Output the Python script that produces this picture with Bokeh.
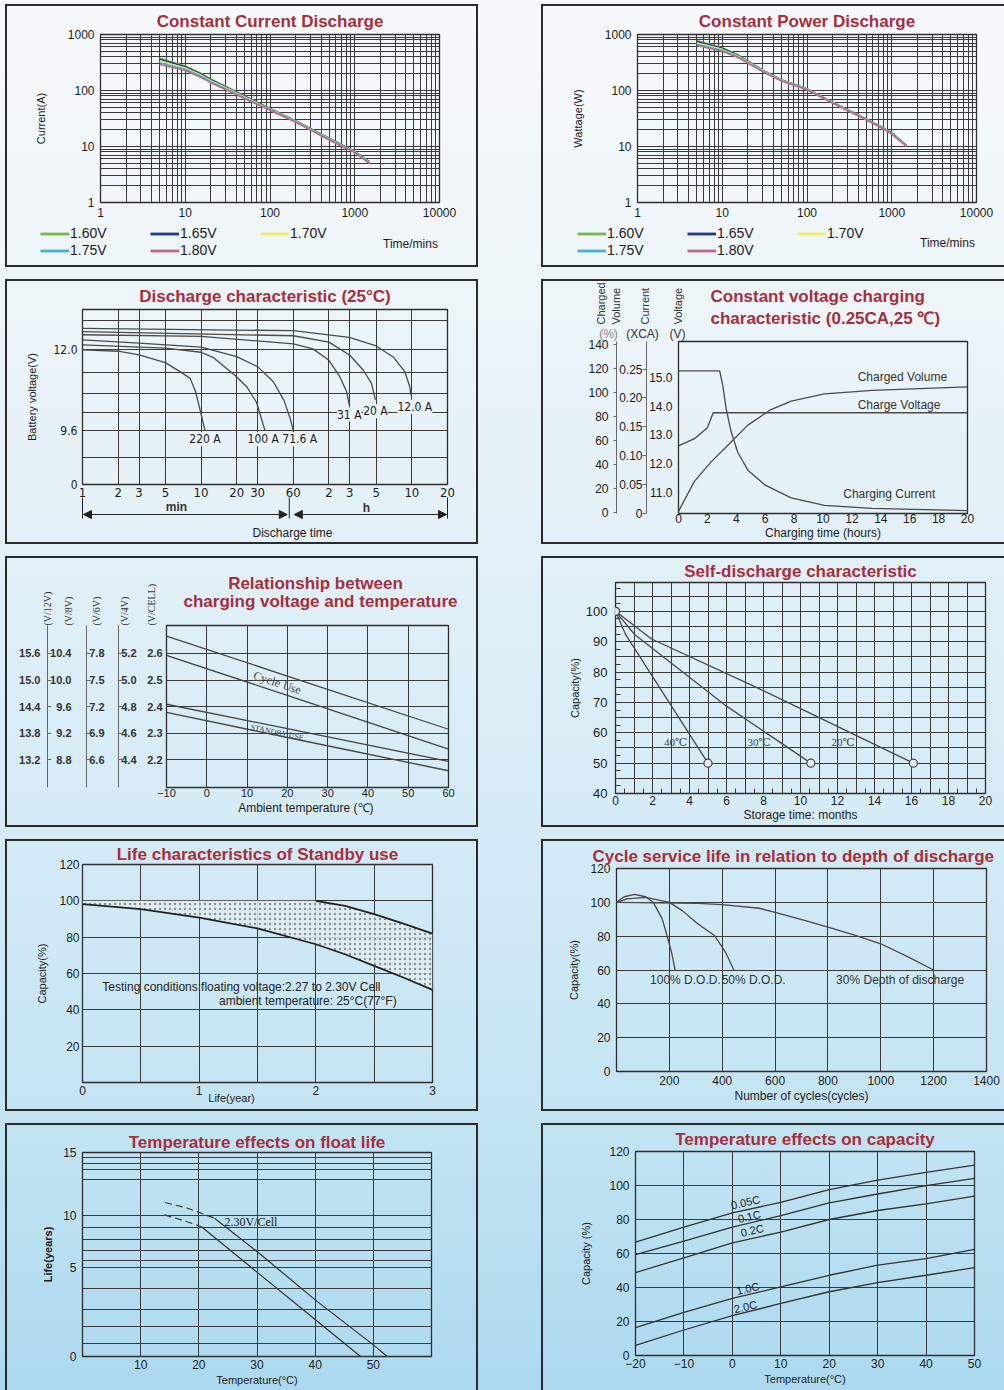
import math
import numpy as np
from bokeh.plotting import figure
from bokeh.models import (Range1d, FixedTicker, LinearAxis, Label, Legend, LegendItem,
                          Arrow, NormalHead, PrintfTickFormatter)
from bokeh.layouts import row, column
from bokeh.embed import file_html
from bokeh.resources import INLINE

# ====================== DATA ======================
end_volts = ["1.60V", "1.65V", "1.70V", "1.75V", "1.80V"]

# 1) Constant current discharge: time (min) -> current (A)
cc_time = [5, 10, 15, 20, 30, 60, 100, 200, 300, 500, 1000, 1500]
cc_160 = [380, 275, 205, 160, 118, 70, 48, 29, 21, 14, 8.2, 5.3]
cc_165 = [362, 266, 200, 156, 116, 69, 47.5, 28.7, 20.8, 13.9, 8.1, 5.25]
cc_170 = [335, 252, 192, 150, 112, 67, 46.5, 28.3, 20.4, 13.6, 8.0, 5.15]
cc_175 = [312, 240, 183, 144, 108, 65, 45.5, 27.8, 20.0, 13.4, 7.9, 5.05]
cc_180 = [292, 228, 174, 138, 104, 63, 44.5, 27.3, 19.6, 13.1, 7.8, 4.95]

# 2) Constant power discharge: time (min) -> power (W)
cp_time = [5, 10, 15, 20, 30, 50, 100, 200, 300, 500, 800, 1000, 1500]
cp_160 = [780, 580, 440, 340, 232, 156, 107, 62, 46, 31, 21.5, 17.5, 10.5]
cp_165 = [750, 566, 432, 335, 229, 154, 106, 61.5, 45.5, 30.8, 21.3, 17.3, 10.4]
cp_170 = [705, 542, 418, 326, 225, 152, 105, 61, 45, 30.5, 21.0, 17.0, 10.3]
cp_175 = [672, 522, 406, 318, 221, 150, 104, 60.5, 44.5, 30.2, 20.8, 16.8, 10.2]
cp_180 = [640, 502, 394, 310, 217, 148, 103, 60, 44, 30, 20.6, 16.6, 10.1]

# 3) Discharge characteristic (25C): time (min) -> battery voltage (V)
dis_labels = ["220 A", "100 A", "71.6 A", "31 A", "20 A", "12.0 A"]
dis_220_t = [1, 2, 3, 5, 6.8, 8.1, 9.0, 9.8, 10.8]
dis_220_v = [12.0, 11.96, 11.85, 11.62, 11.33, 11.15, 10.75, 10.22, 9.6]
dis_100_t = [1, 5, 10, 12.7, 19.6, 24.3, 29.4, 34.6]
dis_100_v = [12.15, 12.05, 11.93, 11.77, 11.22, 10.9, 10.43, 9.6]
dis_716_t = [1, 3, 10, 20, 30, 40.7, 50, 56, 60]
dis_716_v = [12.3, 12.2, 12.08, 11.8, 11.5, 11.05, 10.5, 10.0, 9.6]
dis_31_t = [1, 10, 60, 88, 120, 148, 169, 178]
dis_31_v = [12.45, 12.4, 12.18, 12.03, 11.69, 11.2, 10.76, 10.36]
dis_20_t = [1, 60, 120, 180, 233, 274, 296]
dis_20_v = [12.54, 12.42, 12.23, 11.84, 11.4, 11.0, 10.51]
dis_12_t = [1, 60, 178, 296, 418, 524, 577, 588]
dis_12_v = [12.64, 12.57, 12.37, 12.13, 11.79, 11.35, 10.9, 10.66]
dis_ticks = [1, 2, 3, 5, 10, 20, 30, 60, 120, 180, 300, 600, 1200]
dis_tick_labels = ["1", "2", "3", "5", "10", "20", "30", "60", "2", "3", "5", "10", "20"]
dis_axis_v = [0, 9.6, 12.0, 13.2]            # broken voltage axis knots (V)
dis_axis_frac = [0, 0.3096, 0.7692, 1.0]     # their height fraction on the axis
dis_grid_v = [4.8, 9.6, 10.12, 10.69, 11.32, 12.0, 12.86]

# 4) Constant voltage charging: time (h)
cvc_volt_t = [0, 1.1, 2.0, 2.4, 20]
cvc_volt = [12.62, 12.87, 13.25, 13.77, 13.77]
cvc_cur_t = [0, 2.85, 3.07, 3.3, 3.65, 4.1, 4.8, 6.0, 7.8, 10.1, 13.4, 20]
cvc_cur = [0.247, 0.247, 0.221, 0.181, 0.141, 0.106, 0.075, 0.049, 0.027, 0.014, 0.009, 0.005]
cvc_vol_t = [0, 1.1, 2.27, 3.4, 4.8, 6.4, 7.8, 10.1, 13.4, 20]
cvc_vol = [1, 26, 42.5, 56, 73, 86, 93, 99, 102, 105]

# 5) Charging voltage vs temperature (V/cell)
chg_temp = [-10, 20, 60]
cycle_hi = [2.665, 2.515, 2.315]
cycle_lo = [2.593, 2.442, 2.24]
standby_hi = [2.409, 2.317, 2.194]
standby_lo = [2.378, 2.284, 2.159]
cell_ticks = [2.2, 2.3, 2.4, 2.5, 2.6]

# 6) Self discharge: months -> capacity (%)
sd40_t, sd40_c = [0, 0.55, 5.0], [100, 92.3, 50]
sd30_t, sd30_c = [0, 1.05, 5.9, 10.56], [100, 92.3, 69.2, 50]
sd20_t, sd20_c = [0, 1.95, 7.5, 16.1], [100, 90.9, 75.3, 50]

# 7) Standby life: years -> capacity (%)
life_year = [0, 0.5, 1.0, 1.5, 2.0, 2.25, 2.5, 2.75, 3.0]
life_low = [98.2, 95.4, 90.8, 84.8, 76.1, 70.6, 64.2, 57.8, 51]
life_high = [100, 100, 100, 100, 100, 97.2, 92.7, 87.5, 82]

# 8) Cycle life vs depth of discharge: cycles -> capacity (%)
dod100_n = [0, 29, 69, 110, 139, 173, 191, 208, 222]
dod100_c = [100, 103.3, 104.7, 103.3, 100, 90.2, 80.4, 70.6, 60]
dod50_n = [0, 40, 110, 200, 249, 307, 371, 412, 444]
dod50_c = [100, 102, 102.9, 100, 95.1, 87.3, 80.4, 70.6, 60]
dod30_n = [0, 307, 400, 540, 600, 715, 800, 904, 1000, 1105, 1200]
dod30_c = [100, 99.4, 98.6, 96.5, 94.1, 89.2, 85.3, 80.4, 75.5, 67.6, 60]

# 9) Float life vs temperature: C -> years
fl_hi_dash_t, fl_hi_dash = [14.2, 18.1, 22.7], [11.05, 10.6, 9.77]
fl_hi_t, fl_hi = [22.7, 30, 40, 50, 52.4], [9.77, 6.53, 3.17, 0.65, 0]
fl_lo_dash_t, fl_lo_dash = [14.1, 17.0, 20.4], [10.08, 9.61, 8.96]
fl_lo_t, fl_lo = [20.4, 30, 40, 47.8], [8.96, 4.72, 2.07, 0]
life_axis_yr = [0, 5, 10, 15]
life_axis_frac = [0, 0.438, 0.6895, 1.0]
life_grid_yr = [0.75, 1.68, 2.61, 3.79, 5, 5.65, 6.59, 7.73, 8.86, 10, 12.84, 13.68, 14.1, 14.6]

# 10) Capacity vs temperature
cap_temp = [-20, -10, 0, 10, 20, 30, 40, 50]
cap_005 = [66.7, 75.5, 83.9, 90.1, 97.6, 103.2, 107.7, 112]
cap_01 = [59.3, 67.3, 75.5, 82.3, 89.8, 95, 99.9, 104.2]
cap_02 = [48.8, 57.4, 66.3, 72.6, 80, 85.3, 89.2, 93.7]
cap_10 = [16.4, 25.4, 33.6, 40.4, 47.2, 53.1, 57, 62.4]
cap_20 = [5.9, 15, 23.4, 30.6, 37.5, 42.9, 47.2, 51.7]

# ====================== STYLE ======================
FONT = "Liberation Sans"
NARROW = "'Liberation Sans Narrow', 'DejaVu Sans Condensed', 'Liberation Sans', sans-serif"
SERIF = "'Liberation Serif', 'DejaVu Serif', serif"
GRID_C = "#3a3a3a"
TITLE_C = "#a62f3c"
TXT = "#1c1c1c"
CURVE = "#4a4a4a"
VOLT_COLORS = ["#79b64c", "#23398a", "#eef060", "#3fb6d8", "#c2658e"]
BORDER = "2px solid #2b2b2b"
GRAD = ("linear-gradient(180deg, #f6f9fa 0%, #eef5f9 20%, #e2f0f7 40%, "
        "#d4ebf6 60%, #c4e4f3 80%, #acd9ef 100%)")
HALF_PI = math.pi / 2


def label(p, x, y, text, size="12px", units="screen", font=FONT, align="center",
          baseline="middle", angle=0.0, color=TXT, style="normal", bg=None):
    p.add_layout(Label(x=x, y=y, x_units=units, y_units=units, text=text,
                       text_font=font, text_font_size=size, text_align=align,
                       text_baseline=baseline, angle=angle, text_color=color,
                       text_font_style=style, background_fill_color=bg))


def style_axes(p, size="12px", font=FONT, lstand=4):
    for ax in p.axis:
        ax.axis_line_color = None
        ax.major_tick_line_color = None
        ax.minor_tick_line_color = None
        ax.major_tick_out = 0
        ax.major_tick_in = 0
        ax.minor_tick_out = 0
        ax.minor_tick_in = 0
        ax.major_label_text_font = font
        ax.major_label_text_font_size = size
        ax.major_label_text_color = TXT
        ax.major_label_standoff = lstand
        ax.axis_label_text_font = FONT
        ax.axis_label_text_font_size = "11px"
        ax.axis_label_text_font_style = "normal"
        ax.axis_label_text_color = TXT


class Panel:
    """A bordered chart box; frame given in page pixels (x0, y0, x1, y1)."""

    def __init__(self, origin, size, frame, title, xr, yr, xt="linear", yt="linear",
                 rb=True, bb=True, t_standoff=3, t_align="center", t_offset=0, t_size="17px"):
        self.ox, self.oy = origin
        ow, oh = size
        self.cw = ow - 2 - (2 if rb else 0)
        self.ch = oh - 2 - (2 if bb else 0)
        fx0, fy0, fx1, fy1 = frame
        L, T = fx0 - self.ox - 2, fy0 - self.oy - 2
        self.fx0, self.fy0, self.W, self.H = fx0, fy0, fx1 - fx0, fy1 - fy0
        p = figure(width=self.cw, height=self.ch, x_range=Range1d(*xr), y_range=Range1d(*yr),
                   x_axis_type=xt, y_axis_type=yt, title=title,
                   output_backend="svg", toolbar_location=None, frame_align=False,
                   min_border_left=L, min_border_top=T,
                   min_border_right=self.cw - L - self.W,
                   min_border_bottom=self.ch - T - self.H,
                   border_fill_color=None, background_fill_color=None,
                   outline_line_color="#2e2e2e", outline_line_width=1.3)
        if title is not None:
            t = p.title
            t.text_font = FONT
            t.text_font_size = t_size
            t.text_font_style = "bold"
            t.text_color = TITLE_C
            t.align = t_align
            t.offset = t_offset
            t.standoff = t_standoff
        p.grid.grid_line_color = GRID_C
        p.grid.grid_line_width = 1
        self.p = p
        self.css = {"border-top": BORDER, "border-left": BORDER}
        if rb:
            self.css["border-right"] = BORDER
        if bb:
            self.css["border-bottom"] = BORDER
        self.ovl = None

    def overlay(self):
        if self.ovl is None:
            ov = figure(width=self.cw, height=self.ch, x_range=Range1d(0, self.cw),
                        y_range=Range1d(0, self.ch), x_axis_location=None,
                        y_axis_location=None, min_border=0, frame_align=False,
                        border_fill_color=None, background_fill_color=None,
                        outline_line_color=None, toolbar_location=None,
                        output_backend="svg",
                        styles={"position": "absolute", "left": "0px", "top": "0px"})
            ov.grid.visible = False
            self.ovl = ov
        return self.ovl

    def sx(self, X):
        return X - self.ox - 2

    def sy(self, Y):
        return self.ch - (Y - self.oy - 2)

    def text(self, X, Y, txt, **kw):
        label(self.overlay(), self.sx(X), self.sy(Y), txt, **kw)

    def title_line(self, X, Y, txt, align="center"):
        self.text(X, Y, txt, size="17px", style="bold", color=TITLE_C, align=align)

    def widget(self):
        kids = [self.p] + ([self.ovl] if self.ovl is not None else [])
        return column(*kids, spacing=0, styles={"position": "relative", **self.css})


# ---------------- Panels 1 & 2 ----------------
def discharge_panel(origin, size, frame, rb, title, ylab, t, series, leg_x, tm_xy):
    P = Panel(origin, size, frame, title, (1, 10000), (1, 1000), "log", "log", rb=rb,
              t_standoff=7)
    p = P.p
    style_axes(p)
    dec = [1, 10, 100, 1000, 10000]
    minors = [m * d for d in dec[:-1] for m in range(2, 10)]
    p.xaxis.ticker = FixedTicker(ticks=dec, minor_ticks=minors)
    p.yaxis.ticker = FixedTicker(ticks=dec[:4], minor_ticks=minors[:24])
    p.xaxis.formatter = PrintfTickFormatter(format="%d")
    p.yaxis.formatter = PrintfTickFormatter(format="%d")
    p.grid.minor_grid_line_color = GRID_C
    p.grid.minor_grid_line_width = 1
    p.yaxis.axis_label = ylab
    p.yaxis.major_label_standoff = 6
    p.yaxis.axis_label_standoff = 18
    p.xaxis.major_label_standoff = 5
    for s, c in zip(series, VOLT_COLORS):
        p.line(t, s, line_color=c, line_width=1.6)
    ov = P.overlay()
    # legend keys only (a single NaN point draws nothing on the canvas)
    keys = [ov.line(x=[np.nan], y=[np.nan], line_color=c, line_width=2.8) for c in VOLT_COLORS]
    for idx, yc in (([0, 1, 2], 233), ([3, 4], 250)):
        items = [LegendItem(label=end_volts[i], renderers=[keys[i]]) for i in idx]
        ov.add_layout(Legend(items=items, location=(P.sx(leg_x), P.sy(yc + 8.5)),
                             orientation="horizontal", glyph_width=29, glyph_height=17,
                             label_height=17, label_width=80, label_standoff=1, spacing=0,
                             padding=0, margin=0, background_fill_alpha=0,
                             border_line_color=None, label_text_font=FONT,
                             label_text_font_size="14px", label_text_color=TXT))
    P.text(tm_xy[0], tm_xy[1], "Time/mins", size="12px")
    return P


P1 = discharge_panel((5, 4), (473, 263), (100, 34, 439, 202), True,
                     "Constant Current Discharge", "Current(A)", cc_time,
                     [cc_160, cc_165, cc_170, cc_175, cc_180], 40, (410, 243))
P2 = discharge_panel((541, 4), (463, 263), (637, 34, 976, 202), False,
                     "Constant Power Discharge", "Wattage(W)", cp_time,
                     [cp_160, cp_165, cp_170, cp_175, cp_180], 577, (947, 242))


# ---------------- Panel 3 ----------------
def vmap(v):
    return np.interp(v, dis_axis_v, dis_axis_frac)


P3 = Panel((5, 279), (473, 265), (82, 307, 447, 484), "Discharge characteristic (25°C)",
           (1, 1200), (0, 1), "log", "linear", t_standoff=7)
p3 = P3.p
style_axes(p3, size="12px", font=NARROW)
p3.xaxis.ticker = FixedTicker(ticks=dis_ticks)
p3.xaxis.major_label_overrides = {t: s for t, s in zip(dis_ticks, dis_tick_labels)}
p3.xaxis.major_label_standoff = 3
p3.xaxis.major_label_text_font_size = "13px"
yt3 = [float(vmap(v)) for v in [0, 9.6, 12.0]]
p3.yaxis.ticker = FixedTicker(ticks=yt3)
p3.yaxis.major_label_overrides = {yt3[0]: "0", yt3[1]: "9.6", yt3[2]: "12.0"}
p3.yaxis.major_label_standoff = 5
p3.yaxis.axis_label = "Battery voltage(V)"
p3.yaxis.axis_label_standoff = 12
p3.ygrid.ticker = FixedTicker(ticks=[float(vmap(v)) for v in dis_grid_v])
for tt, vv in [(dis_220_t, dis_220_v), (dis_100_t, dis_100_v), (dis_716_t, dis_716_v),
               (dis_31_t, dis_31_v), (dis_20_t, dis_20_v), (dis_12_t, dis_12_v)]:
    p3.line(tt, vmap(vv), line_color=CURVE, line_width=1.3)
BG3 = "#e9f3f8"
for txt, tx, vy in zip(dis_labels, [10.8, 33.5, 68, 178, 296, 636],
                       [8.03, 8.03, 8.03, 10.07, 10.17, 10.3]):
    label(p3, tx, float(vmap(vy)), txt, size="12px", units="data", font=NARROW, bg=BG3)


def px3(t):
    return P3.fx0 + P3.W * math.log10(t) / math.log10(1200)


o3 = P3.overlay()
sep_x = px3(60) - 4
for X in (px3(1), sep_x, px3(1200)):
    o3.add_layout(Arrow(x_start=P3.sx(X), y_start=P3.sy(497), x_end=P3.sx(X), y_end=P3.sy(518),
                        start=None, end=None, start_units="screen", end_units="screen",
                        line_color="#222", line_width=1))
for xa, xb in ((px3(1) + 1, sep_x - 2), (sep_x + 5, px3(1200) - 1)):
    o3.add_layout(Arrow(x_start=P3.sx(xa), y_start=P3.sy(514), x_end=P3.sx(xb),
                        y_end=P3.sy(514),
                        start=NormalHead(size=8, fill_color="#222", line_color="#222"),
                        end=NormalHead(size=8, fill_color="#222", line_color="#222"),
                        start_units="screen", end_units="screen", line_color="#222",
                        line_width=1))
P3.text(176, 506, "min", size="12px", style="bold", color="#333")
P3.text(366, 507, "h", size="12px", style="bold", color="#333")
P3.text(292, 532, "Discharge time", size="12px")

# ---------------- Panel 4 ----------------
P4 = Panel((541, 279), (463, 265), (678, 341, 967, 513), None,
           (0, 20), (10.276, 16.24), rb=False)
p4 = P4.p
P4.title_line(710, 296, "Constant voltage charging", align="left")
P4.title_line(710, 318, "characteristic (0.25CA,25 ℃)", align="left")
p4.extra_y_ranges = {"cur": Range1d(0, 0.2977), "vol": Range1d(-0.8, 142.8)}
ax_cur = LinearAxis(y_range_name="cur", ticker=FixedTicker(ticks=[0, 0.05, 0.1, 0.15, 0.2, 0.25]),
                    formatter=PrintfTickFormatter(format="%.2f"))
ax_vol = LinearAxis(y_range_name="vol", ticker=FixedTicker(ticks=list(range(0, 141, 20))))
p4.add_layout(ax_cur, "left")
p4.add_layout(ax_vol, "left")
style_axes(p4, size="12px")
p4.grid.visible = False
p4.xaxis.ticker = FixedTicker(ticks=list(range(0, 21, 2)))
p4.xaxis.major_label_standoff = 0
p4.xaxis.axis_label = "Charging time (hours)"
p4.xaxis.axis_label_standoff = 0
p4.xaxis.axis_label_text_font_size = "12px"
p4.yaxis[0].ticker = FixedTicker(ticks=[11, 12, 13, 14, 15])
p4.yaxis[0].formatter = PrintfTickFormatter(format="%.1f")
p4.yaxis[0].major_label_standoff = 6
ax_cur.major_label_overrides = {0: "0"}
ax_cur.axis_line_color = "#666"
ax_cur.major_tick_line_color = "#666"
ax_cur.major_tick_out = 4
ax_cur.major_label_standoff = 0
ax_vol.axis_line_color = "#666"
ax_vol.major_tick_line_color = "#666"
ax_vol.major_tick_out = 3
ax_vol.major_label_standoff = 5
p4.line(cvc_volt_t, cvc_volt, line_color=CURVE, line_width=1.3)
p4.line(cvc_cur_t, cvc_cur, line_color=CURVE, line_width=1.3, y_range_name="cur")
p4.line(cvc_vol_t, cvc_vol, line_color=CURVE, line_width=1.3, y_range_name="vol")
label(p4, 12.4, 15.0, "Charged Volume", units="data", align="left", color="#333")
label(p4, 12.4, 14.05, "Charge Voltage", units="data", align="left", color="#333")
label(p4, 11.4, 10.96, "Charging Current", units="data", align="left", color="#333")
P4.text(608, 324, "Charged\nVolume", size="11px", align="left", angle=HALF_PI, color="#333")
P4.text(644, 324, "Current", size="11px", align="left", angle=HALF_PI, color="#333")
P4.text(677, 324, "Voltage", size="11px", align="left", angle=HALF_PI, color="#333")
P4.text(608, 333, "(%)", color="#888")
P4.text(642, 333, "(XCA)", color="#333")
P4.text(677, 333, "(V)", color="#333")

# ---------------- Panel 5 ----------------
cell_lo, cell_hi = 2.096, 2.705
P5 = Panel((5, 556), (473, 271), (166, 625, 448, 787), None,
           (-10, 60), (cell_lo, cell_hi))
p5 = P5.p
P5.title_line(315, 583, "Relationship between")
P5.title_line(320, 601, "charging voltage and temperature")
extra = {"v4": 2, "v6": 3, "v8": 4, "v12": 6}
p5.extra_y_ranges = {k: Range1d(cell_lo * m, cell_hi * m) for k, m in extra.items()}
axes5 = {}
for k, m in extra.items():
    a = LinearAxis(y_range_name=k, ticker=FixedTicker(ticks=[c * m for c in cell_ticks]),
                   formatter=PrintfTickFormatter(format="%.1f"))
    p5.add_layout(a, "left")
    axes5[k] = a
style_axes(p5, size="11px")
for ax in p5.yaxis:
    ax.major_label_text_font_style = "bold"
    ax.major_label_text_color = "#333"
p5.yaxis[0].ticker = FixedTicker(ticks=cell_ticks)
p5.yaxis[0].formatter = PrintfTickFormatter(format="%.1f")
p5.yaxis[0].major_label_standoff = 4
p5.ygrid.ticker = FixedTicker(ticks=cell_ticks)
axes5["v4"].major_label_standoff = 8
for k, st in (("v6", 14), ("v8", 15), ("v12", 7)):
    a = axes5[k]
    a.axis_line_color = "#666"
    a.major_tick_line_color = "#666"
    a.major_tick_in = 4
    a.major_label_standoff = st
p5.xaxis.ticker = FixedTicker(ticks=list(range(-10, 61, 10)))
p5.xaxis.major_label_standoff = 1
p5.xaxis.axis_label = "Ambient  temperature (℃)"
p5.xaxis.axis_label_standoff = 1
p5.xaxis.axis_label_text_font_size = "12px"
for ys in (cycle_hi, cycle_lo, standby_hi, standby_lo):
    p5.line(chg_temp, ys, line_color="#444", line_width=1.3)
label(p5, 17.5, 2.49, "Cycle Use", units="data", font=SERIF, size="12px",
      angle=math.radians(-18.3), color="#444")
label(p5, 17.5, 2.3025, "STANDBY USE", units="data", font=SERIF, size="8px",
      angle=math.radians(-11.5), color="#444")
for X, tx in ((47, "(V/12V)"), (68, "(V/8V)"), (96, "(V/6V)"), (124, "(V/4V)"),
              (151, "(V/CELL)")):
    P5.text(X, 625, tx, font=SERIF, size="10px", align="left", angle=HALF_PI, color="#333")

# ---------------- Panel 6 ----------------
P6 = Panel((541, 556), (463, 271), (615, 581, 985, 793), "Self-discharge characteristic",
           (0, 20), (40, 109.5), rb=False, t_standoff=3)
p6 = P6.p
style_axes(p6, size="12px")
p6.xaxis.ticker = FixedTicker(ticks=list(range(0, 21, 2)),
                              minor_ticks=[i + 0.5 for i in range(20)])
p6.yaxis.ticker = FixedTicker(ticks=list(range(40, 101, 10)),
                              minor_ticks=[42.5 + 5 * i for i in range(14)])
p6.xgrid.ticker = FixedTicker(ticks=list(range(0, 21)))
p6.ygrid.ticker = FixedTicker(ticks=list(range(45, 110, 5)))
for ax in p6.axis:
    ax.minor_tick_line_color = GRID_C
    ax.minor_tick_in = 5
p6.yaxis.major_label_text_font_size = "13px"
p6.yaxis.major_label_standoff = 8
p6.yaxis.axis_label = "Capacity(%)"
p6.yaxis.axis_label_standoff = 2
p6.xaxis.major_label_standoff = 2
p6.xaxis.axis_label = "Storage time: months"
p6.xaxis.axis_label_standoff = 0
p6.xaxis.axis_label_text_font_size = "12px"
for tt, cc in ((sd40_t, sd40_c), (sd30_t, sd30_c), (sd20_t, sd20_c)):
    p6.line(tt, cc, line_color=CURVE, line_width=1.3)
    p6.scatter([tt[0], tt[-1]], [cc[0], cc[-1]], marker="circle", size=8,
               fill_color="#e3edf1", line_color="#444", line_width=1.2)
for tx, xx in (("40℃", 3.25), ("30℃", 7.76), ("20℃", 12.3)):
    label(p6, xx, 57.1, tx, units="data", font=SERIF, size="11px", color="#444")

# ---------------- Panel 7 ----------------
P7 = Panel((5, 839), (473, 272), (82, 863, 432, 1082), "Life characteristics of Standby use",
           (0, 3), (0, 120), t_standoff=2)
p7 = P7.p
style_axes(p7, size="12px")
p7.xaxis.ticker = FixedTicker(ticks=[0, 1, 2, 3])
p7.xgrid.ticker = FixedTicker(ticks=[0.5, 1, 1.5, 2, 2.5])
p7.yaxis.ticker = FixedTicker(ticks=list(range(20, 121, 20)))
p7.ygrid.ticker = FixedTicker(ticks=list(range(20, 101, 20)))
p7.yaxis.major_label_standoff = 3
p7.yaxis.axis_label = "Capacity(%)"
p7.yaxis.axis_label_standoff = 8
p7.xaxis.major_label_standoff = 3
p7.varea(x=life_year, y1=life_low, y2=life_high, fill_color="#e2edf1", fill_alpha=0.85,
         hatch_pattern="dot", hatch_color="#6f8189", hatch_scale=5, hatch_weight=1.0,
         hatch_alpha=0.8)
p7.line(life_year, life_low, line_color="#222", line_width=1.8)
p7.line(life_year[4:], life_high[4:], line_color="#222", line_width=1.8)
label(p7, 0.17, 52.5, "Testing conditions:floating voltage:2.27 to 2.30V Cell",
      units="data", align="left", size="12px", color="#222")
label(p7, 1.17, 44.8, "ambient temperature: 25°C(77°F)", units="data", align="left",
      size="12px", color="#222")
P7.text(231, 1097, "Life(year)", size="11px")

# ---------------- Panel 8 ----------------
P8 = Panel((541, 839), (463, 272), (616, 867, 986, 1071),
           "Cycle service life in relation to depth of discharge",
           (0, 1400), (0, 120), rb=False, t_standoff=6, t_align="left", t_offset=-24)
p8 = P8.p
style_axes(p8, size="12px")
p8.xaxis.ticker = FixedTicker(ticks=list(range(200, 1401, 200)))
p8.xgrid.ticker = FixedTicker(ticks=list(range(200, 1201, 200)))
p8.yaxis.ticker = FixedTicker(ticks=list(range(0, 121, 20)))
p8.yaxis.major_label_standoff = 6
p8.yaxis.axis_label = "Capacity(%)"
p8.yaxis.axis_label_standoff = 7
p8.xaxis.major_label_standoff = 4
p8.xaxis.axis_label = "Number of cycles(cycles)"
p8.xaxis.axis_label_standoff = 1
p8.xaxis.axis_label_text_font_size = "12px"
for nn, cc in ((dod100_n, dod100_c), (dod50_n, dod50_c), (dod30_n, dod30_c)):
    p8.line(nn, cc, line_color=CURVE, line_width=1.3)
for tx, xx in (("100% D.O.D.", 127), ("50% D.O.D.", 398), ("30% Depth of discharge", 831)):
    label(p8, xx, 54.3, tx, units="data", align="left", size="12px", color="#333")


# ---------------- Panel 9 ----------------
def lmap(y):
    return np.interp(y, life_axis_yr, life_axis_frac)


P9 = Panel((5, 1123), (473, 267), (82, 1152, 431, 1356), "Temperature effects on float life",
           (0, 60), (0, 1), bb=False, t_standoff=2)
p9 = P9.p
style_axes(p9, size="12px")
p9.xaxis.ticker = FixedTicker(ticks=[10, 20, 30, 40, 50])
yt9 = [float(lmap(v)) for v in life_axis_yr]
p9.yaxis.ticker = FixedTicker(ticks=yt9)
p9.yaxis.major_label_overrides = {yt9[i]: str(life_axis_yr[i]) for i in range(4)}
p9.ygrid.ticker = FixedTicker(ticks=[float(lmap(v)) for v in life_grid_yr])
p9.yaxis.major_label_standoff = 6
p9.yaxis.axis_label = "Life(years)"
p9.yaxis.axis_label_standoff = 6
p9.yaxis.axis_label_text_font_style = "bold"
p9.xaxis.major_label_standoff = 3
p9.xaxis.axis_label = "Temperature(°C)"
p9.xaxis.axis_label_standoff = 2
p9.line(fl_hi_dash_t, lmap(fl_hi_dash), line_color="#333", line_width=1.2, line_dash="7 4")
p9.line(fl_lo_dash_t, lmap(fl_lo_dash), line_color="#333", line_width=1.2, line_dash="7 4")
p9.line(fl_hi_t, lmap(fl_hi), line_color="#333", line_width=1.2)
p9.line(fl_lo_t, lmap(fl_lo), line_color="#333", line_width=1.2)
label(p9, 24.4, float(lmap(9.38)), "2.30V/Cell", units="data", align="left", font=SERIF,
      size="12px", color="#222")

# ---------------- Panel 10 ----------------
P10 = Panel((541, 1123), (463, 267), (635, 1150, 974, 1355), "Temperature effects on capacity",
            (-20, 50), (0, 120), rb=False, bb=False, t_standoff=5)
p10 = P10.p
style_axes(p10, size="12px")
p10.xaxis.ticker = FixedTicker(ticks=list(range(-20, 51, 10)))
p10.yaxis.ticker = FixedTicker(ticks=list(range(0, 121, 20)))
p10.yaxis.major_label_standoff = 6
p10.yaxis.axis_label = "Capacity (%)"
p10.yaxis.axis_label_standoff = 14
p10.xaxis.major_label_standoff = 3
p10.xaxis.axis_label = "Temperature(°C)"
p10.xaxis.axis_label_standoff = 2
for ys in (cap_005, cap_01, cap_02, cap_10, cap_20):
    p10.line(cap_temp, ys, line_color="#333", line_width=1.3)
for tx, xx, yy in (("0.05C", 2.7, 90.1), ("0.1C", 3.5, 81.8), ("0.2C", 4.1, 73.6),
                   ("1.0C", 3.2, 39.4), ("2.0C", 2.7, 28.7)):
    label(p10, xx, yy, tx, units="data", size="11px", angle=math.radians(13), color="#222")

# ====================== LAYOUT ======================
page = column(
    row(P1.widget(), P2.widget(), spacing=63),
    row(P3.widget(), P4.widget(), spacing=63),
    row(P5.widget(), P6.widget(), spacing=63),
    row(P7.widget(), P8.widget(), spacing=63),
    row(P9.widget(), P10.widget(), spacing=63),
    spacing=12,
    styles={"padding": "4px 0px 0px 5px", "background": GRAD},
)

with open("out.html", "w") as f:
    f.write(file_html(page, INLINE, title="Battery characteristics"))
